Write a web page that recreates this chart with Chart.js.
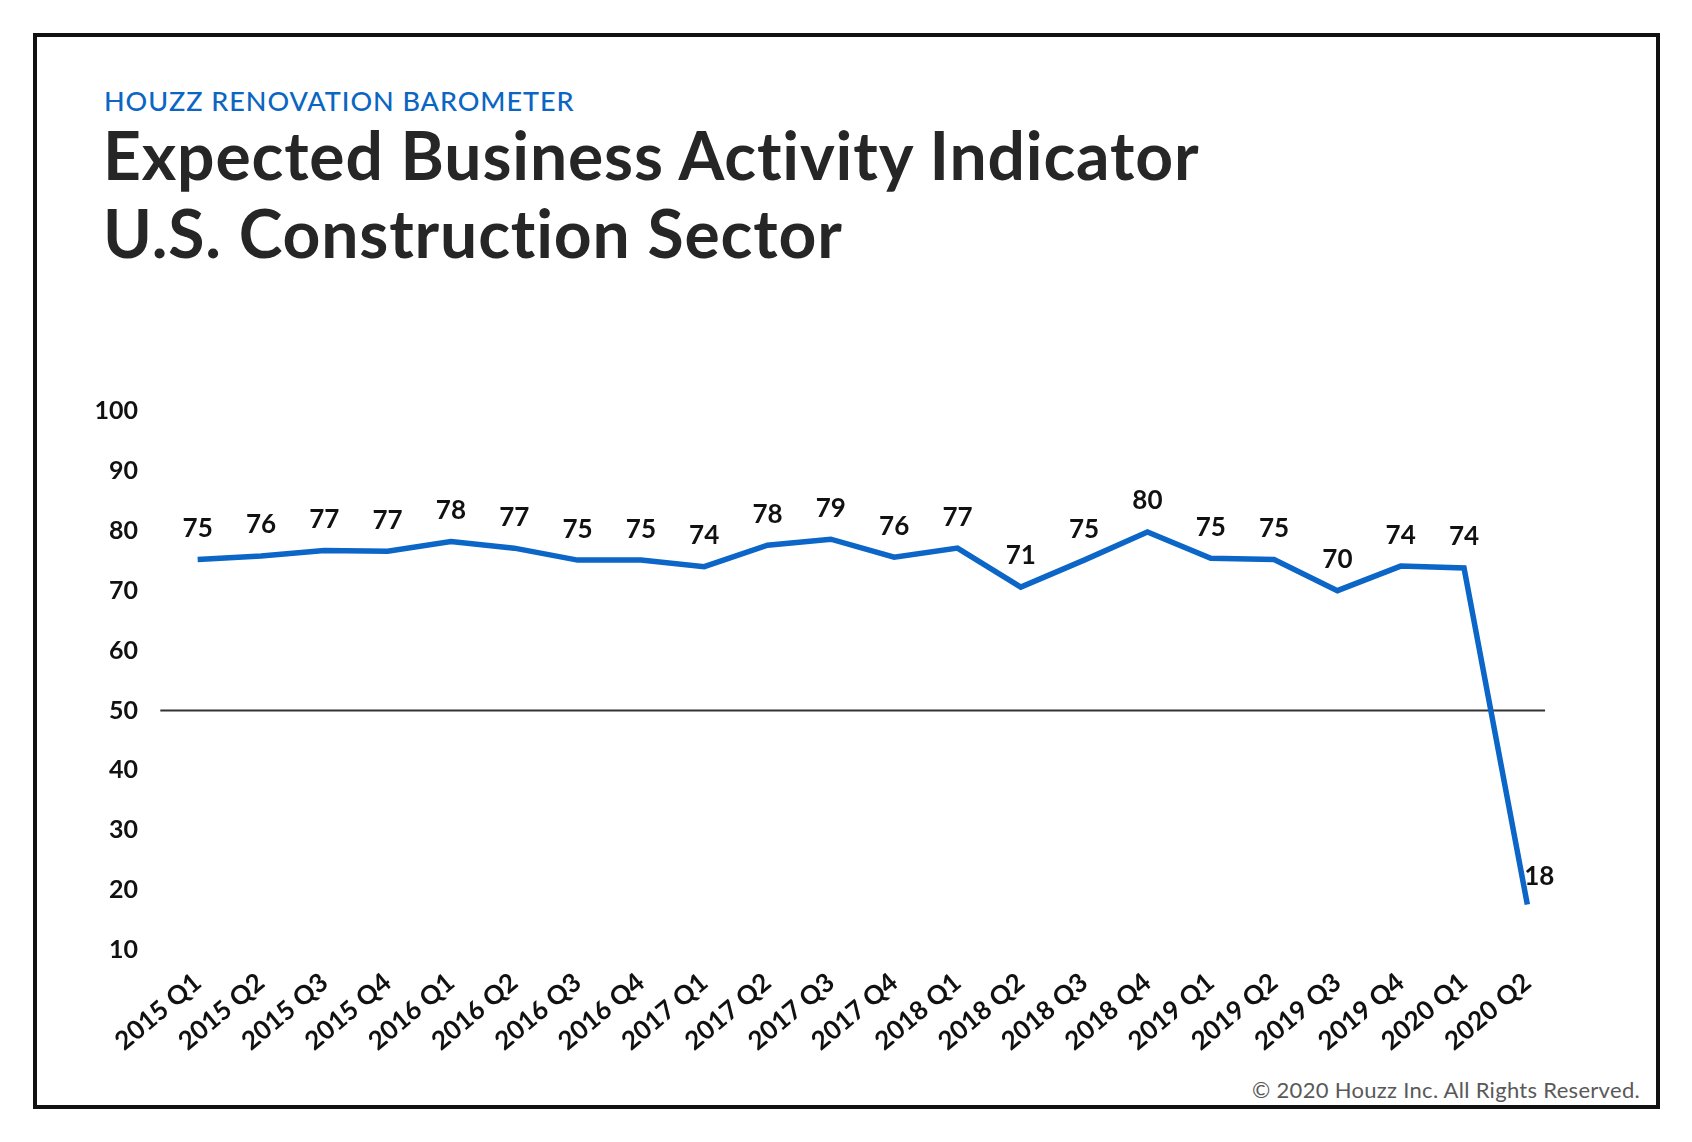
<!DOCTYPE html>
<html><head><meta charset="utf-8">
<script src="https://cdn.jsdelivr.net/npm/chart.js@4/dist/chart.umd.min.js"></script>
<style>
html,body{margin:0;padding:0;background:#fff;}
body{width:1692px;height:1142px;position:relative;overflow:hidden;font-family:Lato,"Open Sans",sans-serif;}
#frame{position:absolute;left:33px;top:33px;width:1627px;height:1076px;border:4px solid #111;box-sizing:border-box;}
#kicker{position:absolute;left:104px;top:87px;font-size:27px;line-height:27px;letter-spacing:0.95px;color:#0b66c3;font-weight:500;white-space:nowrap;}
#title{position:absolute;left:103px;top:116px;font-size:66px;line-height:78px;letter-spacing:0.85px;color:#262626;font-weight:700;white-space:nowrap;}
#copy{position:absolute;right:52px;top:1079px;font-size:22px;line-height:22px;letter-spacing:0.3px;color:#595959;white-space:nowrap;}
#wrap{position:absolute;left:0;top:0;width:1692px;height:1142px;}
</style></head>
<body>
<div id="frame"></div>
<div id="kicker">HOUZZ RENOVATION BAROMETER</div>
<div id="title">Expected Business Activity Indicator<br>U.S. Construction Sector</div>
<div id="copy">© 2020 Houzz Inc. All Rights Reserved.</div>
<div id="wrap"><canvas id="c" width="1692" height="1142"></canvas></div>
<script>
const categories = ["2015 Q1","2015 Q2","2015 Q3","2015 Q4","2016 Q1","2016 Q2","2016 Q3","2016 Q4","2017 Q1","2017 Q2","2017 Q3","2017 Q4","2018 Q1","2018 Q2","2018 Q3","2018 Q4","2019 Q1","2019 Q2","2019 Q3","2019 Q4","2020 Q1","2020 Q2"];
const values = [75.2,75.8,76.7,76.6,78.2,77.1,75.1,75.1,74.0,77.6,78.6,75.6,77.1,70.6,75.1,79.8,75.4,75.2,70.0,74.1,73.8,17.6];
const yTicks = [10,20,30,40,50,60,70,80,90,100];
const referenceLevel = 50;

const FONT = 'Lato, "Open Sans", sans-serif';

const refLine = {
  id: 'refLine',
  beforeDatasetsDraw(chart) {
    const x = chart.scales.x, y = chart.scales.y, ctx = chart.ctx;
    const step = x.getPixelForValue(1) - x.getPixelForValue(0);
    const yy = y.getPixelForValue(referenceLevel);
    ctx.save();
    ctx.strokeStyle = '#333';
    ctx.lineWidth = 2;
    ctx.beginPath();
    ctx.moveTo(x.getPixelForValue(0) - 0.59 * step, yy);
    ctx.lineTo(x.getPixelForValue(categories.length - 1) + 0.28 * step, yy);
    ctx.stroke();
    ctx.restore();
  }
};

const valueLabels = {
  id: 'valueLabels',
  afterDatasetsDraw(chart) {
    const ctx = chart.ctx;
    const meta = chart.getDatasetMeta(0);
    ctx.save();
    ctx.fillStyle = '#111';
    ctx.font = '700 26px ' + FONT;
    ctx.textAlign = 'center';
    ctx.textBaseline = 'middle';
    meta.data.forEach((pt, i) => {
      const txt = String(Math.round(values[i]));
      if (i === values.length - 1) {
        ctx.fillText(txt, pt.x + 12, pt.y - 28);
      } else {
        ctx.fillText(txt, pt.x, pt.y - 31);
      }
    });
    ctx.restore();
  }
};

new Chart(document.getElementById('c'), {
  type: 'line',
  data: {
    labels: categories,
    datasets: [{
      data: values,
      borderColor: '#0b66c8',
      borderWidth: 5.5,
      pointRadius: 0,
      pointHoverRadius: 0,
      tension: 0,
      fill: false,
      borderJoinStyle: 'miter',
      borderCapStyle: 'butt'
    }]
  },
  options: {
    responsive: false,
    animation: false,
    devicePixelRatio: 1,
    layout: { padding: { left: 86, right: 133, top: 411, bottom: 72 } },
    plugins: { legend: { display: false }, tooltip: { enabled: false } },
    scales: {
      x: {
        type: 'category',
        offset: true,
        grid: { display: false },
        border: { display: false },
        ticks: {
          color: '#111',
          font: { family: FONT, size: 26, weight: 700 },
          minRotation: 40, maxRotation: 40,
          autoSkip: false,
          padding: 9
        },
        afterFit(s) { s.height = 120; }
      },
      y: {
        min: yTicks[0],
        max: yTicks[yTicks.length - 1],
        grid: { display: false, drawTicks: false },
        border: { display: false },
        afterBuildTicks(s) { s.ticks = yTicks.map(v => ({ value: v })); },
        ticks: {
          color: '#111',
          font: { family: FONT, size: 25, weight: 700 },
          padding: 28
        },
        afterFit(s) { s.width = 80; }
      }
    }
  },
  plugins: [refLine, valueLabels]
});
</script>
</body></html>
